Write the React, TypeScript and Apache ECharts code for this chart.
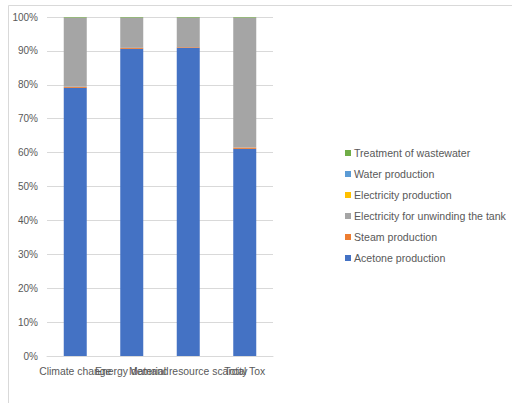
import React, { useEffect, useRef } from "react";
import * as echarts from "echarts";

const categories = ["Climate change", "Energy demand", "Material resource scarcity", "Total Tox"];
const seriesNames = [
  "Acetone production",
  "Steam production",
  "Electricity for unwinding the tank",
  "Electricity production",
  "Water production",
  "Treatment of wastewater",
];
const acetone = [79.1, 90.6, 90.9, 61.1];
const steam = [0.3, 0.3, 0.2, 0.4];
const elecUnwinding = [20.4, 8.9, 8.7, 38.3];
const elecProduction = [0.02, 0.02, 0.02, 0.02];
const water = [0.02, 0.02, 0.02, 0.02];
const wastewater = [0.16, 0.16, 0.16, 0.16];
const colors = ["#4472C4", "#ED7D31", "#A5A5A5", "#FFC000", "#5B9BD5", "#70AD47"];
const yTicks = [0, 10, 20, 30, 40, 50, 60, 70, 80, 90, 100];

export default function App() {
  const ref = useRef<HTMLDivElement>(null);
  useEffect(() => {
    if (!ref.current) return;
    const chart = echarts.init(ref.current, undefined, { renderer: "svg" });
    const values = [acetone, steam, elecUnwinding, elecProduction, water, wastewater];
    const font = "Liberation Sans, Arial, sans-serif";
    chart.setOption({
      animation: false,
      color: colors,
      textStyle: { fontFamily: font },
      grid: { left: 47, right: 240, top: 17, bottom: 47, containLabel: false },
      legend: {
        orient: "vertical",
        left: 340,
        top: 142,
        padding: 5,
        itemWidth: 6,
        itemHeight: 6,
        itemGap: 9,
        icon: "rect",
        data: [...seriesNames].reverse(),
        textStyle: { fontSize: 10.6, color: "#595959", lineHeight: 12, fontFamily: font, padding: [0, 0, 0, -2] },
      },
      xAxis: {
        type: "category",
        data: categories,
        axisLine: { show: true, lineStyle: { color: "#d9d9d9" } },
        axisTick: { show: false },
        axisLabel: {
          interval: 0,
          hideOverlap: false,
          fontSize: 10.4,
          color: "#595959",
          margin: 10,
          fontFamily: font,
        },
      },
      yAxis: {
        type: "value",
        min: 0,
        max: 100,
        interval: 10,
        axisLine: { show: false },
        axisTick: { show: false },
        splitLine: { lineStyle: { color: "#d9d9d9" } },
        axisLabel: {
          formatter: (v: number) => (yTicks.includes(v) ? v + "%" : ""),
          fontSize: 10,
          color: "#595959",
          margin: 9,
          fontFamily: font,
        },
      },
      graphic: [
        { type: "line", shape: { x1: 8.5, y1: 5.5, x2: 512, y2: 5.5 }, style: { stroke: "#d9d9d9", lineWidth: 1 } },
        { type: "line", shape: { x1: 8.5, y1: 5.5, x2: 8.5, y2: 403 }, style: { stroke: "#d9d9d9", lineWidth: 1 } },
      ],
      series: seriesNames.map((name, i) => ({
        name,
        type: "bar",
        stack: "total",
        barWidth: 23,
        data: values[i],
        itemStyle: { color: colors[i] },
      })),
    });
    return () => chart.dispose();
  }, []);
  return (
    <div
      ref={ref}
      style={{ position: "fixed", left: 0, top: 0, width: 513, height: 403, background: "#fff" }}
    />
  );
}
